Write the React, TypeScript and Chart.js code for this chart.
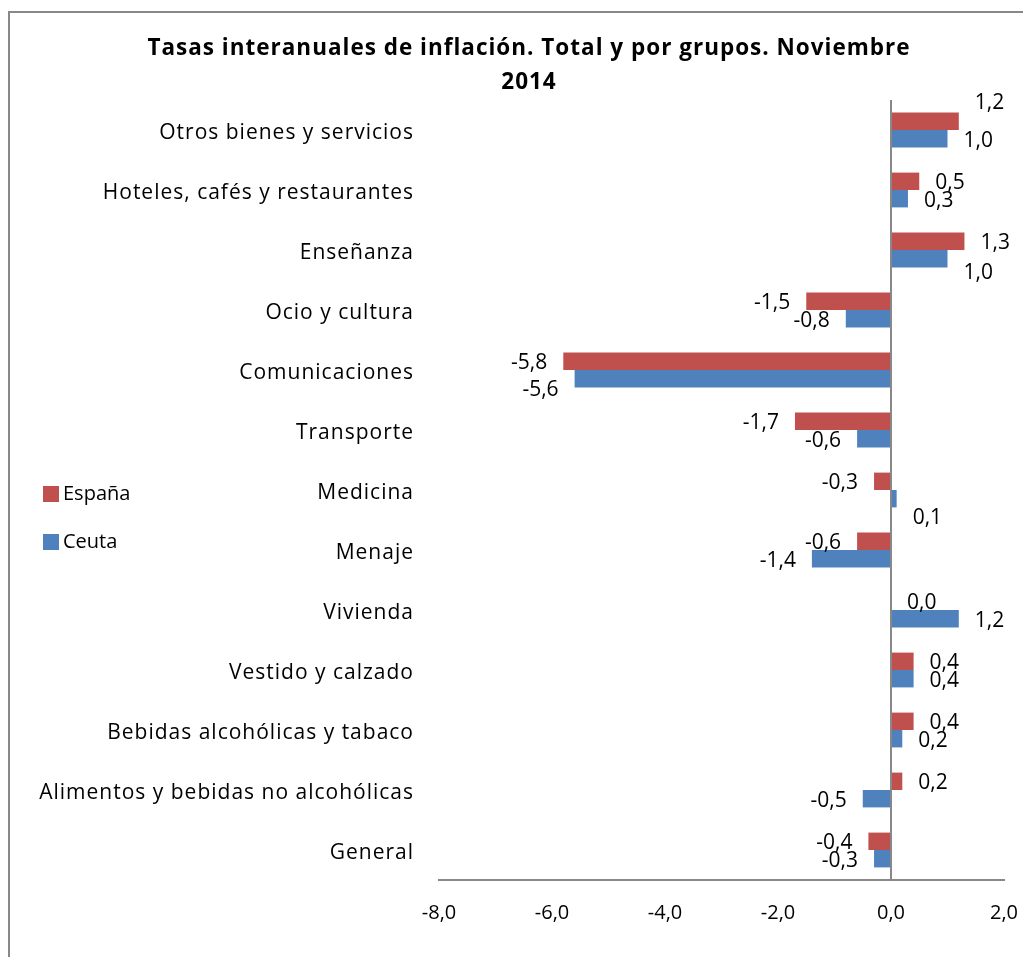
import React, { useEffect, useRef } from 'react';
import { Chart, registerables } from 'chart.js';

Chart.register(...registerables);

// ---- data ----
const categories = [
  'Otros bienes y servicios',
  'Hoteles, cafés y restaurantes',
  'Enseñanza',
  'Ocio y cultura',
  'Comunicaciones',
  'Transporte',
  'Medicina',
  'Menaje',
  'Vivienda',
  'Vestido y calzado',
  'Bebidas alcohólicas y tabaco',
  'Alimentos y bebidas no alcohólicas',
  'General',
];
const espana = [1.2, 0.5, 1.3, -1.5, -5.8, -1.7, -0.3, -0.6, 0.0, 0.4, 0.4, 0.2, -0.4];
const ceuta = [1.0, 0.3, 1.0, -0.8, -5.6, -0.6, 0.1, -1.4, 1.2, 0.4, 0.2, -0.5, -0.3];
const xTickValues = [-8, -6, -4, -2, 0, 2];
const seriesNames = ['España', 'Ceuta'];
const titleLines = ['Tasas interanuales de inflación. Total y por grupos. Noviembre', '2014'];

// ---- style ----
const RED = '#C0504D';
const BLUE = '#4F81BD';
const GREY = '#888888';
const FONT = '"Open Sans", "Liberation Sans", sans-serif';
// vertical nudges of individual data labels (as moved in the original)
const labelNudge: number[][] = [
  [-20, 0, 0, 0, 0, 0, 0, 0, 0, 0, 0, 0, 0],
  [0, 0, 12, 0, 9, 0, 17, 0, 0, 0, 0, 0, 0],
];

const fmt = (v: number) => v.toFixed(1).replace('.', ',');

const setSpacing = (ctx: any, s: string) => {
  if ('letterSpacing' in ctx) ctx.letterSpacing = s;
};

const decorPlugin = {
  id: 'decor',
  beforeDraw(chart: any) {
    const ctx = chart.ctx as CanvasRenderingContext2D;
    setSpacing(ctx, '0px');
    ctx.save();
    ctx.fillStyle = '#ffffff';
    ctx.fillRect(0, 0, chart.width, chart.height);
    ctx.strokeStyle = GREY;
    ctx.lineWidth = 2;
    ctx.strokeRect(1, 4, chart.width + 100, chart.height + 100);
    // title
    ctx.fillStyle = '#000';
    setSpacing(ctx, '1px');
    ctx.font = `bold 22.5px ${FONT}`;
    ctx.textAlign = 'center';
    ctx.textBaseline = 'middle';
    ctx.fillText(titleLines[0], 521, 41);
    ctx.fillText(titleLines[1], 521, 75);
    setSpacing(ctx, '0px');
    // legend
    ctx.font = `20px ${FONT}`;
    ctx.textAlign = 'left';
    chart.data.datasets.forEach((ds: any, i: number) => {
      const y = 478 + i * 48;
      ctx.fillStyle = ds.backgroundColor;
      ctx.fillRect(35, y, 16, 16);
      ctx.fillStyle = '#000';
      ctx.fillText(ds.label, 55, y + 8);
    });
    ctx.restore();
  },
  afterDatasetsDraw(chart: any) {
    const ctx = chart.ctx as CanvasRenderingContext2D;
    ctx.save();
    setSpacing(ctx, '0px');
    ctx.font = `21px ${FONT}`;
    ctx.fillStyle = '#000';
    ctx.textBaseline = 'middle';
    chart.data.datasets.forEach((ds: any, i: number) => {
      const meta = chart.getDatasetMeta(i);
      meta.data.forEach((el: any, j: number) => {
        const v = ds.data[j] as number;
        const gap = 16;
        const y = el.y + 2 + (labelNudge[i]?.[j] || 0);
        if (v >= 0) {
          ctx.textAlign = 'left';
          ctx.fillText(fmt(v), el.x + gap, y);
        } else {
          ctx.textAlign = 'right';
          ctx.fillText(fmt(v), el.x - gap, y);
        }
      });
    });
    ctx.restore();
    // category labels (drawn in a later layer) get the wider letter spacing
    setSpacing(ctx, '1px');
  },
  afterDraw(chart: any) {
    setSpacing(chart.ctx, '0px');
  },
};

export default function App() {
  const ref = useRef<HTMLCanvasElement | null>(null);
  useEffect(() => {
    if (!ref.current) return;
    const chart = new Chart(ref.current, {
      type: 'bar',
      data: {
        labels: categories,
        datasets: [
          { label: seriesNames[0], data: espana, backgroundColor: RED, borderWidth: 0 },
          { label: seriesNames[1], data: ceuta, backgroundColor: BLUE, borderWidth: 0 },
        ],
      },
      options: {
        indexAxis: 'y',
        responsive: false,
        animation: false,
        events: [],
        categoryPercentage: 0.58,
        barPercentage: 1,
        layout: { padding: { left: 0, right: 19, top: 92, bottom: 22 } },
        plugins: {
          legend: { display: false },
          title: { display: false },
          tooltip: { enabled: false },
        },
        scales: {
          x: {
            type: 'linear',
            min: -8,
            max: 2,
            afterBuildTicks: (s: any) => {
              s.ticks = xTickValues.map((v) => ({ value: v }));
            },
            afterFit: (s: any) => {
              s.height = 55;
            },
            ticks: {
              callback: (v: any) => fmt(Number(v)),
              color: '#000',
              font: { family: FONT, size: 20 },
              padding: 0,
              maxRotation: 0,
            },
            grid: {
              drawTicks: true,
              tickLength: 21,
              tickColor: 'rgba(0,0,0,0)',
              lineWidth: 2,
              color: (c: any) => (c.tick && c.tick.value === 0 ? GREY : 'rgba(0,0,0,0)'),
            },
            border: { display: true, color: GREY, width: 2 },
          },
          y: {
            afterFit: (s: any) => {
              s.width = 431;
            },
            ticks: {
              color: '#000',
              font: { family: FONT, size: 21 },
              padding: 25,
              labelOffset: 3,
              autoSkip: false,
              z: 1,
            },
            grid: { display: false, drawTicks: false },
            border: { display: false },
          },
        },
      },
      plugins: [decorPlugin],
    });
    return () => chart.destroy();
  }, []);
  return (
    <div style={{ width: 1015, height: 949 }}>
      <canvas ref={ref} width={1015} height={949} style={{ display: 'block' }} />
    </div>
  );
}
